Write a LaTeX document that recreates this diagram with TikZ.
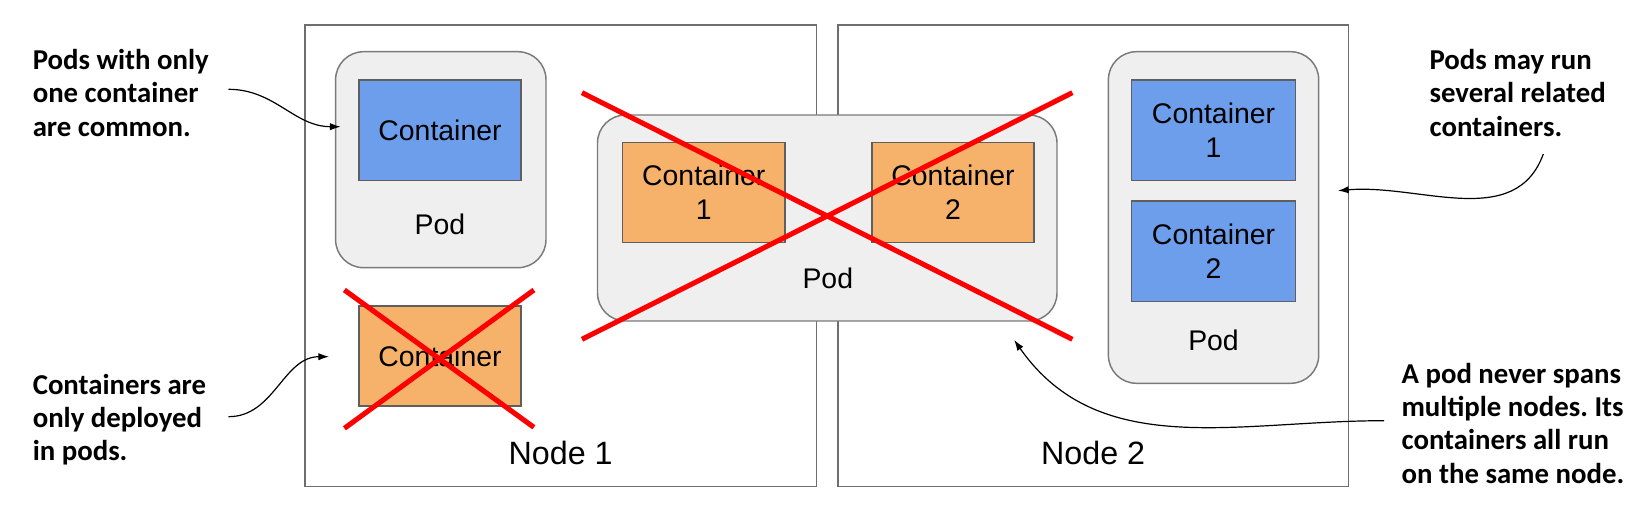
\documentclass[tikz,border=0pt]{standalone}
\usepackage{fontspec}
\setmainfont{Liberation Sans}
\newfontfamily\annfont{Carlito}
\usetikzlibrary{fit,arrows.meta}
\definecolor{cblue}{HTML}{6D9EEB}
\definecolor{corange}{HTML}{F6B26B}
\definecolor{podfill}{HTML}{EFEFEF}
\definecolor{podline}{HTML}{7A7A7A}
\definecolor{boxline}{HTML}{6E6E6E}
\definecolor{cline}{HTML}{5F5F5F}
\definecolor{xred}{HTML}{FF0000}
\frenchspacing
\begin{document}
\begin{tikzpicture}[x=0.75pt,y=-0.75pt,
  nodebox/.style={draw=boxline,line width=1.1pt,fill=white,inner sep=0pt},
  podbox/.style={draw=podline,line width=1.1pt,fill=podfill,rounded corners=21pt,inner sep=0pt},
  ctr/.style={draw=cline,line width=1.1pt,inner sep=0pt},
  bluec/.style={ctr,fill=cblue},
  orangec/.style={ctr,fill=corange},
  ctext/.style={align=center,inner sep=0pt,font=\fontsize{21.3}{25.5}\selectfont},
  lbl/.style={font=\fontsize{21.3}{25.5}\selectfont,inner sep=0pt},
  nlbl/.style={font=\fontsize{24.2}{29}\selectfont,inner sep=0pt},
  ann/.style={font=\annfont\bfseries\fontsize{21.6}{25}\selectfont,align=left,anchor=west,inner sep=0pt},
  cross/.style={draw=xred,line width=3.8pt},
  arr/.style={line width=0.9pt,-{Latex[length=8pt,width=5.5pt]}}
]
\useasboundingbox (0,0) rectangle (1652,520);

% worker nodes
\node[nodebox, fit={(305,25) (816.4,486.7)}] (node1) {};
\node[nodebox, fit={(837.8,25) (1348.7,486.7)}] (node2) {};
\node[nlbl] (node1lbl) at (560.7,452.7) {Node 1};
\node[nlbl] (node2lbl) at (1093.2,452.7) {Node 2};

% pod with one container
\node[podbox, fit={(335.6,51.7) (546,267.7)}] (pod1) {};
\node[bluec, fit={(359,80) (521,180.7)}] (c0) {};
\node[ctext] (c0t) at (c0) {Container};
\node[lbl] (pod1lbl) at (440,224) {Pod};

% stray container
\node[orangec, fit={(359,306) (521,406)}] (c00) {};
\node[ctext] (c00t) at (c00) {Container};
\draw[cross] (344.4,290) -- (533.9,427.3);
\draw[cross] (344.4,428.3) -- (533.9,290);

% pod spanning both nodes
\node[podbox, fit={(597.5,115) (1057,321)}] (pod2) {};
\node[orangec, fit={(622.5,142.7) (785,242.7)}] (c21) {};
\node[ctext] (c21t) at (c21) {Container\\1};
\node[orangec, fit={(871.8,142.7) (1034.2,242.7)}] (c22) {};
\node[ctext] (c22t) at (c22) {Container\\2};
\node[lbl] (pod2lbl) at (827.8,278.3) {Pod};
\draw[cross] (582,92.7) -- (1072.4,339.3);
\draw[cross] (582,339.3) -- (1072.4,92.7);

% pod with two containers
\node[podbox, fit={(1108.4,51.7) (1318.7,383.3)}] (pod3) {};
\node[bluec, fit={(1131.4,80) (1295.7,180.7)}] (c31) {};
\node[ctext] (c31t) at (c31) {Container\\1};
\node[bluec, fit={(1131.4,201) (1295.7,301.7)}] (c32) {};
\node[ctext] (c32t) at (c32) {Container\\2};
\node[lbl] (pod3lbl) at (1213.5,340) {Pod};

% annotations
\node[ann] (ann1) at (32.5,93) {Pods with only\\one container\\are common.};
\node[ann] (ann2) at (32.5,419.7) {Containers are\\only deployed\\in pods.};
\node[ann] (ann3) at (1429.3,93) {Pods may run\\several related\\containers.};
\node[ann] (ann4) at (1401.3,423) {A pod never spans\\multiple nodes. Its\\containers all run\\on the same node.};

% arrows
\coordinate (a1s) at (228.5,89.3);
\coordinate (a1e) at (340.6,126.7);
\coordinate (a2s) at (228.5,416.7);
\coordinate (a2e) at (329,356.7);
\coordinate (a3s) at (1384,420.7);
\coordinate (a3e) at (1014.2,340);
\coordinate (a4s) at (1543.3,154);
\coordinate (a4e) at (1338,190.7);
\draw[arr] (a1s) to[out=0,in=180] (a1e);
\draw[arr] (a2s) to[out=0,in=180] (a2e);
\draw[arr] (a3s) to[out=180,in=-55] (a3e);
\draw[arr] (a4s) to[out=-110,in=5] (a4e);
\end{tikzpicture}
\end{document}
